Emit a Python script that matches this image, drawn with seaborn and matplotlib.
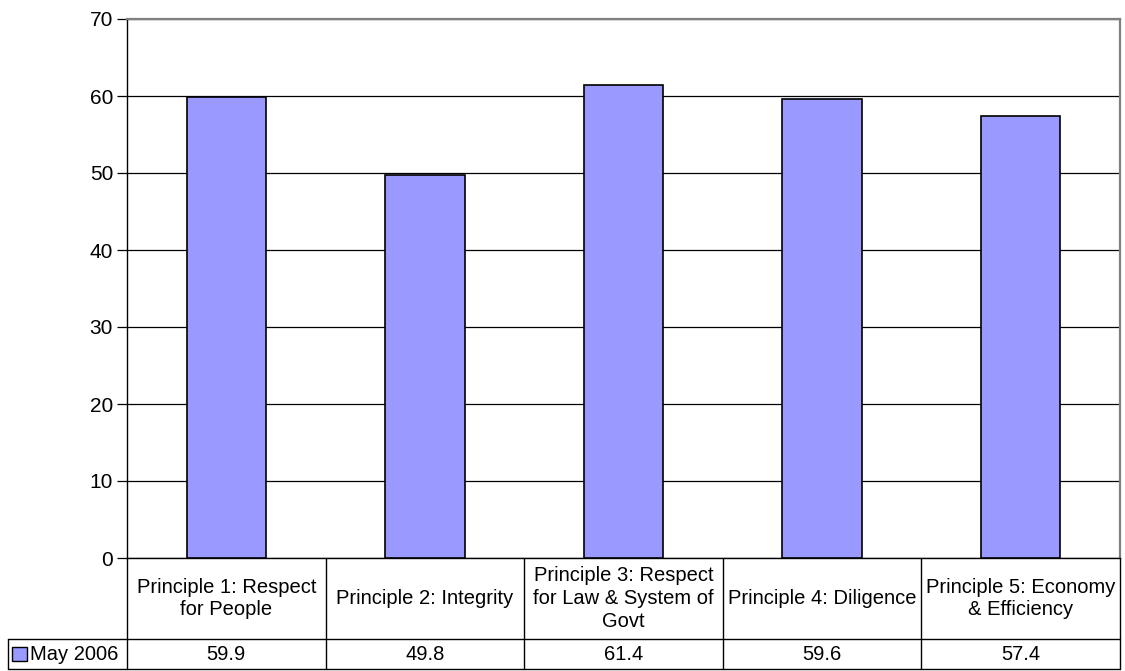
import matplotlib
matplotlib.use("Agg")
import matplotlib.pyplot as plt
import seaborn as sns
import pandas as pd
from matplotlib.patches import Rectangle

categories = [
    "Principle 1: Respect\nfor People",
    "Principle 2: Integrity",
    "Principle 3: Respect\nfor Law & System of\nGovt",
    "Principle 4: Diligence",
    "Principle 5: Economy\n& Efficiency",
]
values = [59.9, 49.8, 61.4, 59.6, 57.4]
series_name = "May 2006"
y_ticks = [0, 10, 20, 30, 40, 50, 60, 70]

BAR_COLOR = "#9999FF"

sns.set_theme(style="white")
plt.rcParams["font.family"] = ["Liberation Sans", "DejaVu Sans"]

fig = plt.figure(figsize=(11.25, 6.71), dpi=100)
ax = fig.add_axes([127 / 1125, 1 - 558 / 671, (1120 - 127) / 1125, (558 - 19) / 671])

df = pd.DataFrame({"category": categories, "value": values})
sns.barplot(data=df, x="category", y="value", color=BAR_COLOR, saturation=1,
            width=0.4, edgecolor="black", linewidth=1.2, ax=ax, zorder=3)

ax.set_xlim(-0.5, len(categories) - 0.5)
ax.set_ylim(0, 70)
ax.set_yticks(y_ticks)
ax.set_axisbelow(True)
ax.yaxis.grid(True, color="black", linewidth=0.9)
ax.xaxis.grid(False)
ax.set_xlabel("")
ax.set_ylabel("")
ax.set_xticks([])
ax.tick_params(axis="y", which="major", left=True, length=7, width=0.9,
               color="black", labelsize=15, pad=3, labelcolor="black")

for side in ("top", "right"):
    ax.spines[side].set_color("#808080")
    ax.spines[side].set_linewidth(1.6)
for side in ("left", "bottom"):
    ax.spines[side].set_color("black")
    ax.spines[side].set_linewidth(1.0)

# data table beneath the plot area (axes-fraction y, data x)
tr = ax.get_xaxis_transform()
tra = ax.transAxes
row1 = -81 / 539
row2 = -111 / 539
left_edge = -119 / 993
lw = 1.0
line_kw = dict(color="black", linewidth=lw, clip_on=False)

# horizontal rules
ax.plot([left_edge, 1], [row1, row1], transform=tra, **line_kw)
ax.plot([left_edge, 1], [row2, row2], transform=tra, **line_kw)
# vertical rules
ax.plot([0, 0], [0, row2], transform=tra, **line_kw)
ax.plot([1, 1], [0, row2], transform=tra, **line_kw)
ax.plot([left_edge, left_edge], [row1, row2], transform=tra, **line_kw)
for i in range(1, len(categories)):
    ax.plot([i - 0.5, i - 0.5], [0, row2], transform=tr, **line_kw)

for i, (cat, val) in enumerate(zip(categories, values)):
    ax.text(i, row1 / 2, cat, transform=tr, ha="center", va="center",
            fontsize=14.5, color="black", linespacing=1.25, clip_on=False)
    ax.text(i, (row1 + row2) / 2, f"{val:.1f}", transform=tr, ha="center",
            va="center", fontsize=14.5, color="black", clip_on=False)

# legend key in the row header
key_x = left_edge + 4 / 993
key_w = 15 / 993
key_h = 14 / 539
ymid = (row1 + row2) / 2
ax.add_patch(Rectangle((key_x, ymid - key_h / 2), key_w, key_h,
                       transform=tra, facecolor=BAR_COLOR, edgecolor="black",
                       linewidth=1.0, clip_on=False))
ax.text(key_x + key_w + 3 / 993, ymid, series_name, transform=tra, ha="left",
        va="center", fontsize=14.5, color="black", clip_on=False)

fig.savefig("out.png", dpi=100, facecolor="white")
